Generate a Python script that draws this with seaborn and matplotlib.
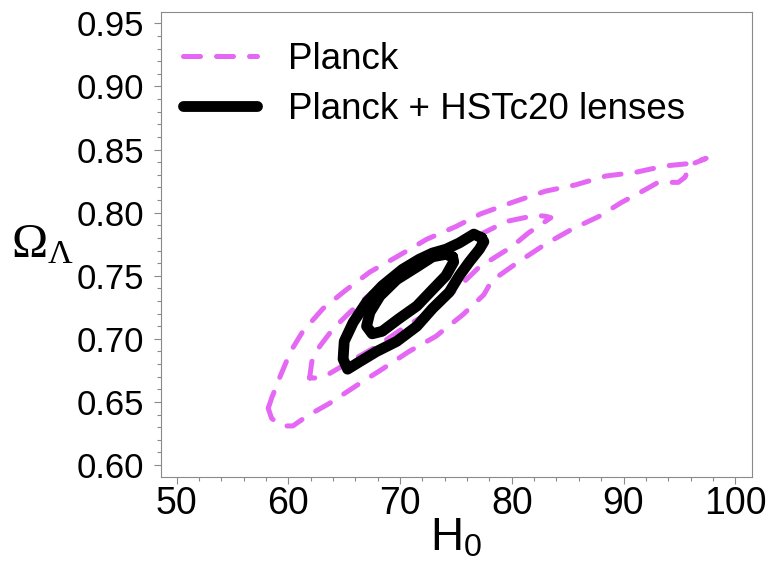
import matplotlib
matplotlib.use("Agg")
import matplotlib.pyplot as plt
import seaborn as sns
import pandas as pd
from matplotlib.ticker import MultipleLocator

# ---- data ----
planck_2s_h0 = [58.2, 58.5, 59.3, 60.2, 61.3, 63.1, 65.2, 67.3, 69.7, 72.4, 75.0, 77.2,
                80.0, 83.0, 85.7, 88.4, 91.1, 93.7, 96.0, 97.4, 96.0, 95.5, 94.9, 93.1,
                91.9, 89.8, 87.8, 85.4, 83.0, 80.6, 78.2, 77.5, 75.6, 73.2, 70.8, 68.4,
                66.1, 63.7, 61.7, 60.4, 59.4, 58.5]
planck_2s_ol = [0.645, 0.653, 0.671, 0.690, 0.706, 0.724, 0.739, 0.753, 0.765, 0.779, 0.789, 0.799,
                0.808, 0.817, 0.822, 0.829, 0.832, 0.837, 0.839, 0.843, 0.838, 0.828, 0.824, 0.824,
                0.818, 0.808, 0.797, 0.787, 0.775, 0.761, 0.746, 0.735, 0.719, 0.702, 0.690, 0.676,
                0.663, 0.649, 0.639, 0.631, 0.631, 0.637]

planck_1s_h0 = [61.9, 62.1, 62.8, 64.0, 65.5, 67.5, 69.7, 72.0, 74.4, 76.8, 79.5, 82.2, 83.1,
                83.5, 81.5, 80.0, 78.2, 77.1, 75.0, 72.6, 70.2, 67.9, 65.5, 63.4, 62.4]
planck_1s_ol = [0.669, 0.682, 0.694, 0.708, 0.721, 0.737, 0.750, 0.761, 0.771, 0.781, 0.793, 0.798, 0.797,
                0.796, 0.784, 0.773, 0.763, 0.757, 0.739, 0.721, 0.708, 0.694, 0.682, 0.671, 0.669]

lens_2s_h0 = [77.3, 76.6, 75.3, 74.1, 72.9, 71.7, 70.2, 68.4, 67.0, 65.8, 65.0, 64.9, 65.3,
              66.4, 67.9, 69.7, 71.5, 72.9, 74.4, 75.3, 76.2, 77.1, 77.5]
lens_2s_ol = [0.780, 0.783, 0.776, 0.771, 0.768, 0.763, 0.755, 0.742, 0.729, 0.713, 0.698, 0.684, 0.676,
              0.682, 0.690, 0.698, 0.710, 0.724, 0.737, 0.750, 0.761, 0.771, 0.777]

lens_1s_h0 = [74.7, 74.1, 72.9, 71.5, 69.7, 68.2, 67.3, 67.0, 67.5, 68.4, 69.9, 71.5, 72.9, 74.1, 74.8]
lens_1s_ol = [0.765, 0.767, 0.765, 0.757, 0.747, 0.734, 0.721, 0.710, 0.704, 0.706, 0.716, 0.726,
              0.739, 0.750, 0.761]

labels = ["Planck", "Planck + HSTc20 lenses"]
x_ticks = [50, 60, 70, 80, 90, 100]
y_ticks = [0.60, 0.65, 0.70, 0.75, 0.80, 0.85, 0.90, 0.95]

# ---- style ----
sns.set_theme(style="white")
plt.rcParams["font.family"] = ["Liberation Sans", "DejaVu Sans"]
plt.rcParams["mathtext.fontset"] = "custom"
plt.rcParams["mathtext.rm"] = "Liberation Serif"
plt.rcParams["mathtext.sf"] = "Liberation Sans"
plt.rcParams["mathtext.it"] = "Liberation Serif:italic"
plt.rcParams["text.color"] = "black"
plt.rcParams["axes.labelcolor"] = "black"
plt.rcParams["xtick.color"] = "black"
plt.rcParams["ytick.color"] = "black"

MAGENTA = "#e468f4"
GRAY = "#8a8a8a"

fig = plt.figure(figsize=(7.7, 5.64), dpi=100)
ax = fig.add_axes([0.2091, 0.1537, 0.7675, 0.8255])


def closed(xs, ys):
    return pd.DataFrame({"H0": list(xs) + [xs[0]], "OL": list(ys) + [ys[0]]})


for i, (xs, ys) in enumerate([(planck_2s_h0, planck_2s_ol), (planck_1s_h0, planck_1s_ol)]):
    sns.lineplot(data=closed(xs, ys), x="H0", y="OL", sort=False, estimator=None,
                 color=MAGENTA, linewidth=3.6, linestyle=(0, (3.4, 3.2)),
                 dash_capstyle="round", dash_joinstyle="round", ax=ax, zorder=3,
                 label=labels[0] if i == 0 else None)

for i, (xs, ys) in enumerate([(lens_2s_h0, lens_2s_ol), (lens_1s_h0, lens_1s_ol)]):
    sns.lineplot(data=closed(xs, ys), x="H0", y="OL", sort=False, estimator=None,
                 color="black", linewidth=7.8, solid_joinstyle="round",
                 solid_capstyle="round", ax=ax, zorder=4,
                 label=labels[1] if i == 0 else None)

ax.set_xlim(48.6, 101.5)
ax.set_ylim(0.5903, 0.9592)
ax.set_xticks(x_ticks)
ax.set_yticks(y_ticks)
ax.set_xticklabels([str(v) for v in x_ticks])
ax.set_yticklabels([f"{v:.2f}" for v in y_ticks])
ax.xaxis.set_minor_locator(MultipleLocator(2))
ax.yaxis.set_minor_locator(MultipleLocator(0.01))

for s in ax.spines.values():
    s.set_color(GRAY)
    s.set_linewidth(0.8)

ax.tick_params(axis="x", which="major", direction="out", length=5, width=0.8,
               color=GRAY, labelsize=27, pad=1, labelcolor="black", bottom=True)
ax.tick_params(axis="x", which="minor", direction="out", length=3, width=0.8,
               color=GRAY, bottom=True)
ax.tick_params(axis="y", which="major", direction="out", length=5, width=0.8,
               color=GRAY, labelsize=25, pad=7, labelcolor="black", left=True)
ax.tick_params(axis="y", which="minor", direction="out", length=3, width=0.8,
               color=GRAY, left=True)

ax.set_xlabel(r"$\mathsf{H}_\mathsf{0}$", fontsize=33, color="black")
ax.xaxis.set_label_coords(0.5, -0.085)
ax.xaxis.label.set_va("top")
ax.set_ylabel(r"$\Omega_\Lambda$", fontsize=35, rotation=0, color="black")
ax.yaxis.set_label_coords(-0.20, 0.50)
ax.yaxis.label.set_ha("center")
ax.yaxis.label.set_va("center")

handles, labs = ax.get_legend_handles_labels()
order = [labs.index(labels[0]), labs.index(labels[1])]
leg = ax.legend([handles[k] for k in order], [labs[k] for k in order],
                loc="upper left", bbox_to_anchor=(0.0186, 0.9596), frameon=False,
                fontsize=26.5, handlelength=2.0, handletextpad=0.85,
                borderaxespad=0.0, borderpad=0.3, labelspacing=0.41)
for t in leg.get_texts():
    t.set_color("black")

fig.savefig("out.png", dpi=100)
